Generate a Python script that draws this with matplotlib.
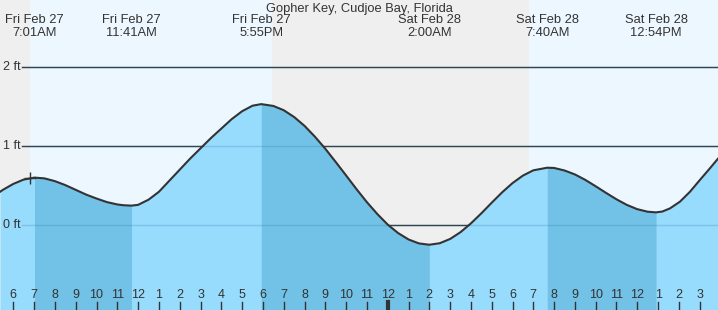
from matplotlib import pyplot as plt
import numpy as np

plt.rcParams['font.family'] = ['Liberation Sans', 'DejaVu Sans']

# Time is in hours from midnight, Fri Feb 27
title = 'Gopher Key, Cudjoe Bay, Florida'

# tide curve (hours, ft)
hours = [5.36, 5.5, 6.0, 6.5, 7.02, 7.5, 8.0, 8.5, 9.0, 9.5, 10.0, 10.5, 11.0, 11.3, 11.68,
         12.0, 12.5, 13.0, 13.5, 14.0, 14.5, 15.0, 15.5, 16.0, 16.5, 17.0, 17.5, 17.92,
         18.5, 19.0, 19.5, 20.0, 20.5, 21.0, 21.5, 22.0, 22.5, 23.0, 23.5, 24.0,
         24.5, 25.0, 25.5, 26.0,
         26.5, 27.0, 27.5, 28.0, 28.5, 29.0, 29.5, 30.0, 30.5, 31.0, 31.67,
         32.0, 32.5, 33.0, 33.5, 34.0, 34.5, 35.0, 35.5, 36.0, 36.5, 36.9,
         37.2, 37.57, 38.05, 38.53, 39.01, 39.5, 39.88]
heights = [0.42, 0.445, 0.52, 0.575, 0.60, 0.59, 0.555, 0.505, 0.445, 0.385, 0.335, 0.29, 0.26, 0.25, 0.245,
           0.255, 0.32, 0.42, 0.56, 0.70, 0.84, 0.97, 1.10, 1.22, 1.34, 1.44, 1.51, 1.53,
           1.507, 1.453, 1.367, 1.255, 1.118, 0.965, 0.798, 0.627, 0.454, 0.289, 0.139, 0.005,
           -0.102, -0.183, -0.233, -0.25,
           -0.231, -0.177, -0.091, 0.02, 0.147, 0.282, 0.413, 0.53, 0.625, 0.692, 0.725,
           0.722, 0.69, 0.64, 0.571, 0.49, 0.406, 0.325, 0.254, 0.20, 0.168, 0.16,
           0.17, 0.21, 0.295, 0.42, 0.57, 0.72, 0.84]

# high / low tide events
event_hours = [7.02, 11.68, 17.92, 26.0, 31.67, 36.9]
event_days = ['Fri Feb 27', 'Fri Feb 27', 'Fri Feb 27',
              'Sat Feb 28', 'Sat Feb 28', 'Sat Feb 28']
event_times = ['7:01AM', '11:41AM', '5:55PM', '2:00AM', '7:40AM', '12:54PM']

# sunrise / sunset
sun_edges = [5.36, 6.80, 18.42, 30.79, 39.88]
sun_colors = ['#efefef', '#edf7ff', '#efefef', '#edf7ff']

grid_levels = [0, 1, 2]
grid_labels = ['0 ft', '1 ft', '2 ft']
now_hour = 6.80
now_height = 0.60

xmin, xmax = 5.36, 39.88
ymin, ymax = -1.076, 2.848
dark = '#333333'

fig = plt.figure(figsize=(7.18, 3.10), dpi=100)
ax = fig.add_axes([0, 0, 1, 1])
ax.set_xlim(xmin, xmax)
ax.set_ylim(ymin, ymax)
ax.set_xticks([])
ax.set_yticks([])
for s in ax.spines.values():
    s.set_visible(False)

# day / night background
for i in range(len(sun_colors)):
    ax.axvspan(sun_edges[i], sun_edges[i + 1], color=sun_colors[i], zorder=0, lw=0)

# grid lines behind the water
for lv in grid_levels:
    ax.axhline(lv, xmin=22 / 718, color=dark, lw=1, zorder=1)

# water
t = np.array(hours)
h = np.array(heights)
ax.fill_between(t, ymin, h, color='#97dbfd', lw=0, zorder=2)
# falling tide (high -> low) darker
for a, b in [(0, 1), (2, 3), (4, 5)]:
    m = (t >= event_hours[a]) & (t <= event_hours[b])
    ax.fill_between(t[m], ymin, h[m], color='#72c1e6', lw=0, zorder=2)

# faint grid inside the water
for lv in grid_levels:
    ax.axhline(lv, xmin=22 / 718, color='#2a7fb0', lw=1, alpha=0.25, zorder=3)

ax.plot(t, h, color=dark, lw=1.5, zorder=4, solid_joinstyle='round')
ax.plot(now_hour, now_height, marker='+', ms=9, mew=1, color=dark, zorder=5)

for lv, lab in zip(grid_levels, grid_labels):
    ax.text(xmin + 3 / 20.8, lv, lab, fontsize=9, color=dark,
            va='center', ha='left', zorder=5)

# hour ticks and labels
tick_hours = np.arange(6, 40)
for th in tick_hours:
    ax.axvline(th, ymin=0, ymax=8 / 310, color=dark, lw=3 if th == 24 else 1, zorder=6)
    ax.text(th, 0.047, str((th - 1) % 12 + 1), fontsize=9, color=dark,
            ha='center', va='center', transform=ax.get_xaxis_transform(), zorder=5)

# title and event labels
ax.text(0.5, 0.961, title, transform=ax.transAxes, ha='center', va='baseline',
        fontsize=9.3, color=dark)
for eh, d, tm in zip(event_hours, event_days, event_times):
    ax.text(eh, 0.925, d, transform=ax.get_xaxis_transform(), ha='center',
            va='baseline', fontsize=9.3, color=dark)
    ax.text(eh, 0.884, tm, transform=ax.get_xaxis_transform(), ha='center',
            va='baseline', fontsize=9.3, color=dark)

plt.savefig('out.png', dpi=100)
